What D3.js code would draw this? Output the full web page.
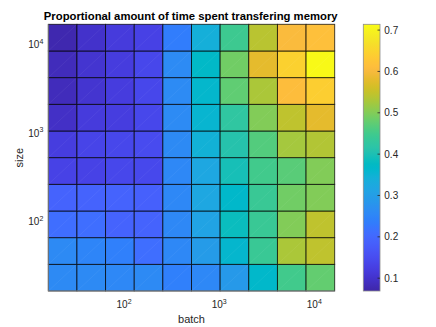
<!DOCTYPE html>
<html>
<head>
<meta charset="utf-8">
<script src="https://cdn.jsdelivr.net/npm/d3@7"></script>
<style>
body { margin: 0; background: #fff; }
text { font-family: "Liberation Sans", Arial, Helvetica, sans-serif; }
</style>
</head>
<body>
<div id="chart"></div>
<script>
// cell edges (powers of two)
const batchEdges = [16, 32, 64, 128, 256, 512, 1024, 2048, 4096, 8192, 16384];
const sizeEdges = [16, 32, 64, 128, 256, 512, 1024, 2048, 4096, 8192, 16384];

// proportion of time, one row per size (lowest size first), one value per batch
const size16   = [0.260, 0.260, 0.255, 0.260, 0.240, 0.255, 0.290, 0.366, 0.450, 0.478];
const size32   = [0.260, 0.250, 0.240, 0.210, 0.255, 0.295, 0.360, 0.440, 0.530, 0.545];
const size64   = [0.210, 0.210, 0.192, 0.192, 0.255, 0.310, 0.385, 0.440, 0.500, 0.545];
const size128  = [0.192, 0.192, 0.192, 0.185, 0.255, 0.320, 0.366, 0.440, 0.488, 0.500];
const size256  = [0.132, 0.132, 0.140, 0.142, 0.255, 0.320, 0.395, 0.450, 0.470, 0.500];
const size512  = [0.122, 0.135, 0.140, 0.148, 0.260, 0.345, 0.410, 0.465, 0.525, 0.535];
const size1024 = [0.095, 0.118, 0.122, 0.140, 0.262, 0.356, 0.425, 0.500, 0.545, 0.580];
const size2048 = [0.085, 0.105, 0.120, 0.140, 0.262, 0.362, 0.475, 0.530, 0.610, 0.640];
const size4096 = [0.085, 0.105, 0.120, 0.140, 0.262, 0.370, 0.488, 0.580, 0.645, 0.710];
const size8192 = [0.075, 0.100, 0.118, 0.130, 0.235, 0.340, 0.445, 0.540, 0.605, 0.615];
const rows = [size16, size32, size64, size128, size256, size512, size1024, size2048, size4096, size8192];

const axisTicks = [100, 1000, 10000];
const cbarTicks = [0.1, 0.2, 0.3, 0.4, 0.5, 0.6, 0.7];
const clim = [0.069, 0.714];

const parula = [
  [0.2422,0.1504,0.6603],[0.2504,0.1650,0.7076],[0.2578,0.1818,0.7511],[0.2647,0.1978,0.7952],
  [0.2706,0.2147,0.8364],[0.2751,0.2342,0.8710],[0.2783,0.2559,0.8991],[0.2803,0.2782,0.9221],
  [0.2813,0.3006,0.9414],[0.2810,0.3228,0.9579],[0.2795,0.3447,0.9717],[0.2760,0.3667,0.9829],
  [0.2699,0.3892,0.9906],[0.2602,0.4123,0.9952],[0.2440,0.4358,0.9988],[0.2206,0.4603,0.9973],
  [0.1963,0.4847,0.9892],[0.1834,0.5074,0.9798],[0.1786,0.5289,0.9682],[0.1764,0.5499,0.9520],
  [0.1687,0.5703,0.9359],[0.1540,0.5902,0.9218],[0.1460,0.6091,0.9079],[0.1380,0.6276,0.8973],
  [0.1248,0.6459,0.8883],[0.1113,0.6635,0.8763],[0.0952,0.6798,0.8598],[0.0689,0.6948,0.8394],
  [0.0297,0.7082,0.8163],[0.0036,0.7203,0.7917],[0.0067,0.7312,0.7660],[0.0433,0.7411,0.7394],
  [0.0964,0.7500,0.7120],[0.1408,0.7584,0.6842],[0.1717,0.7670,0.6554],[0.1938,0.7758,0.6251],
  [0.2161,0.7843,0.5923],[0.2470,0.7918,0.5567],[0.2906,0.7973,0.5188],[0.3406,0.8008,0.4789],
  [0.3909,0.8029,0.4354],[0.4456,0.8024,0.3909],[0.5044,0.7993,0.3480],[0.5616,0.7942,0.3045],
  [0.6174,0.7876,0.2612],[0.6720,0.7793,0.2227],[0.7242,0.7698,0.1910],[0.7738,0.7598,0.1646],
  [0.8203,0.7498,0.1535],[0.8634,0.7406,0.1596],[0.9035,0.7330,0.1774],[0.9393,0.7288,0.2100],
  [0.9728,0.7298,0.2394],[0.9956,0.7434,0.2371],[0.9970,0.7659,0.2199],[0.9952,0.7893,0.2028],
  [0.9892,0.8136,0.1885],[0.9786,0.8386,0.1766],[0.9676,0.8639,0.1643],[0.9610,0.8890,0.1537],
  [0.9597,0.9135,0.1423],[0.9628,0.9373,0.1265],[0.9691,0.9606,0.1064],[0.9769,0.9839,0.0805]
].map(c => d3.rgb(c[0] * 255, c[1] * 255, c[2] * 255).formatHex());

const W = 436, H = 327;
const plot = { left: 48.3, right: 334.7, top: 24.3, bottom: 291 };
const cbar = { left: 363.3, right: 380, top: 24.3, bottom: 291 };
const textColor = '#262626';

const svg = d3.select('#chart').append('svg')
    .attr('width', W).attr('height', H);

const x = d3.scaleLog().domain([16, 16384]).range([plot.left, plot.right]);
const y = d3.scaleLog().domain([16, 16384]).range([plot.bottom, plot.top]);

const color = d3.scaleLinear()
    .domain(d3.range(parula.length).map(i => clim[0] + (clim[1] - clim[0]) * i / (parula.length - 1)))
    .range(parula)
    .clamp(true);

// cells
const cells = [];
rows.forEach((row, j) => {
    row.forEach((v, i) => {
        cells.push({ b0: batchEdges[i], b1: batchEdges[i + 1], s0: sizeEdges[j], s1: sizeEdges[j + 1], v });
    });
});

svg.append('g').selectAll('rect')
    .data(cells)
    .enter()
    .append('rect')
    .attr('x', d => x(d.b0))
    .attr('y', d => y(d.s1))
    .attr('width', d => x(d.b1) - x(d.b0))
    .attr('height', d => y(d.s0) - y(d.s1))
    .attr('fill', d => color(d.v))
    .attr('stroke', 'rgba(0,0,0,0.8)')
    .attr('stroke-width', 0.9);

// faint triangulation diagonals
svg.append('g').selectAll('line')
    .data(cells)
    .enter()
    .append('line')
    .attr('x1', d => x(d.b0)).attr('y1', d => y(d.s0))
    .attr('x2', d => x(d.b1)).attr('y2', d => y(d.s1))
    .attr('stroke', 'rgba(255,255,255,0.09)')
    .attr('stroke-width', 0.6);

// axis lines
svg.append('line')
    .attr('x1', plot.left).attr('x2', plot.right)
    .attr('y1', plot.bottom).attr('y2', plot.bottom)
    .attr('stroke', '#8c8c8c').attr('stroke-width', 1);
svg.append('line')
    .attr('x1', plot.left).attr('x2', plot.left)
    .attr('y1', plot.top).attr('y2', plot.bottom)
    .attr('stroke', '#8c8c8c').attr('stroke-width', 0.8);

function powerLabel(sel, v) {
    const e = Math.round(Math.log10(v));
    sel.append('tspan').text('10');
    sel.append('tspan').attr('dy', -4.5).attr('font-size', '7px').text(e);
}

// x tick labels
axisTicks.forEach(v => {
    const t = svg.append('text')
        .attr('x', x(v)).attr('y', 308.3)
        .attr('text-anchor', 'middle')
        .attr('font-size', '10px')
        .attr('fill', textColor);
    powerLabel(t, v);
});

// y tick labels
axisTicks.forEach(v => {
    const t = svg.append('text')
        .attr('x', 43.3).attr('y', y(v) + 5)
        .attr('text-anchor', 'end')
        .attr('font-size', '10px')
        .attr('fill', textColor);
    powerLabel(t, v);
});

// axis titles
svg.append('text')
    .attr('x', (plot.left + plot.right) / 2).attr('y', 322.5)
    .attr('text-anchor', 'middle')
    .attr('font-size', '11px')
    .attr('fill', textColor)
    .text('batch');

svg.append('text')
    .attr('transform', `translate(22.5,${(plot.top + plot.bottom) / 2}) rotate(-90)`)
    .attr('text-anchor', 'middle')
    .attr('font-size', '11px')
    .attr('fill', textColor)
    .text('size');

svg.append('text')
    .attr('x', 190.7).attr('y', 19.5)
    .attr('text-anchor', 'middle')
    .attr('font-size', '11.3px')
    .attr('font-weight', 'bold')
    .attr('fill', '#000')
    .text('Proportional amount of time spent transfering memory');

// colorbar
const grad = svg.append('defs').append('linearGradient')
    .attr('id', 'parula')
    .attr('x1', 0).attr('y1', 1).attr('x2', 0).attr('y2', 0);
grad.selectAll('stop')
    .data(parula)
    .enter()
    .append('stop')
    .attr('offset', (d, i) => i / (parula.length - 1))
    .attr('stop-color', d => d);

svg.append('rect')
    .attr('x', cbar.left).attr('y', cbar.top)
    .attr('width', cbar.right - cbar.left)
    .attr('height', cbar.bottom - cbar.top)
    .attr('fill', 'url(#parula)')
    .attr('stroke', '#8c8c8c')
    .attr('stroke-width', 0.8);

const cy = d3.scaleLinear().domain(clim).range([cbar.bottom, cbar.top]);

svg.append('g').selectAll('line')
    .data(cbarTicks)
    .enter()
    .append('line')
    .attr('x1', cbar.right - 2.5).attr('x2', cbar.right)
    .attr('y1', d => cy(d)).attr('y2', d => cy(d))
    .attr('stroke', textColor).attr('stroke-width', 0.8);

svg.append('g').selectAll('text')
    .data(cbarTicks)
    .enter()
    .append('text')
    .attr('x', 384.3)
    .attr('y', d => cy(d) + 3.6)
    .attr('font-size', '10px')
    .attr('fill', textColor)
    .text(d => d3.format('.1f')(d));
</script>
</body>
</html>
